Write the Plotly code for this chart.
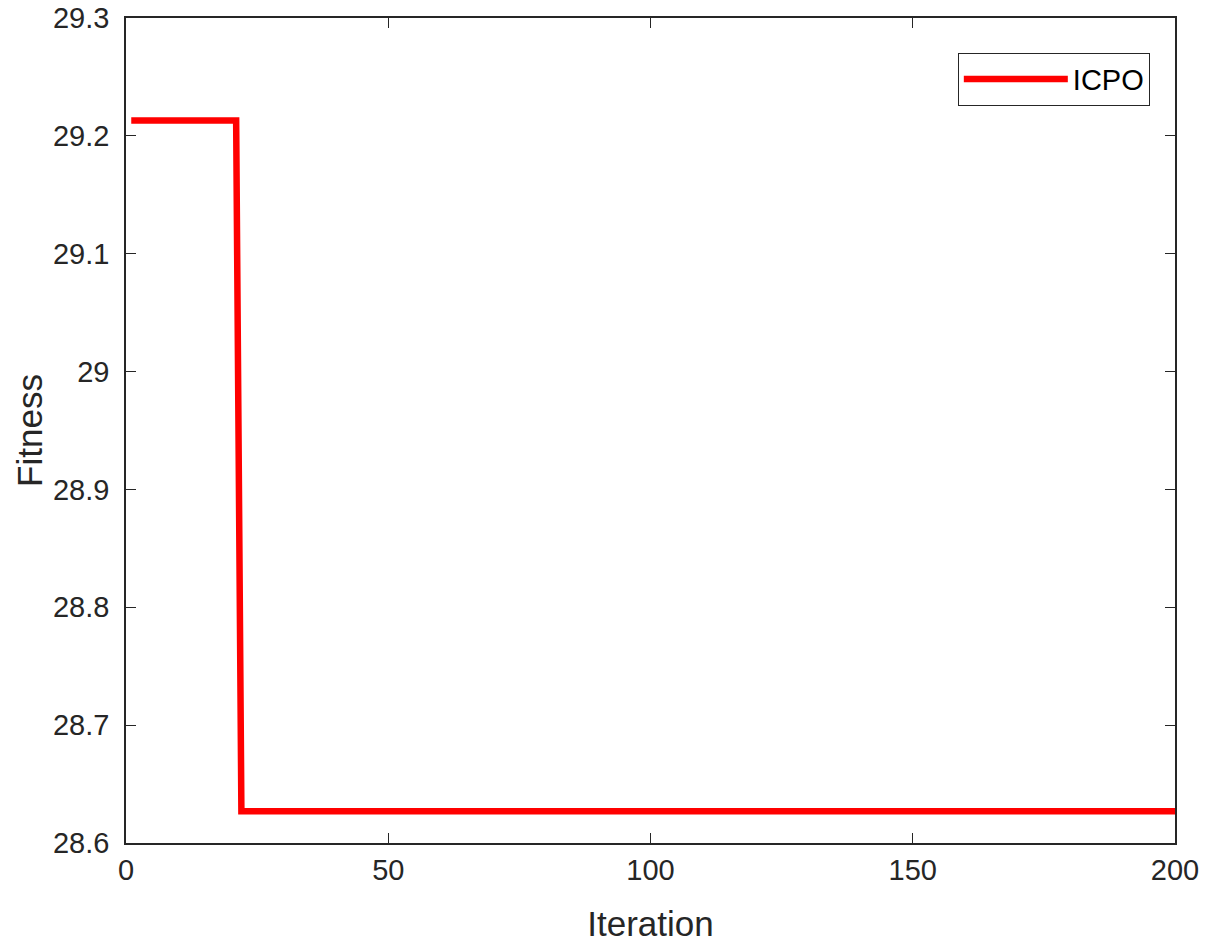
import plotly.graph_objects as go

# convergence curve (step values)
iteration = [1, 21, 22, 200]
fitness = [29.213, 29.213, 28.627, 28.627]

x_ticks = [0, 50, 100, 150, 200]
y_ticks = [28.6, 28.7, 28.8, 28.9, 29.0, 29.1, 29.2, 29.3]
y_labels = ["28.6", "28.7", "28.8", "28.9", "29", "29.1", "29.2", "29.3"]

fig = go.Figure()
fig.add_trace(go.Scatter(x=iteration, y=fitness, mode="lines", name="ICPO",
                         line=dict(color="#ff0000", width=6.5)))

fig.update_layout(
    width=1205, height=943,
    margin=dict(l=126, r=30, t=18, b=100, autoexpand=False),
    paper_bgcolor="white", plot_bgcolor="white",
    font=dict(family="Liberation Sans, Arial", size=29, color="#262626"),
    showlegend=True,
    legend=dict(x=0.976, y=0.958, xanchor="right", yanchor="top",
                bgcolor="white", bordercolor="#262626", borderwidth=1,
                font=dict(size=29, color="#000000"), itemwidth=104,
                tracegroupgap=0),
)
fig.update_xaxes(range=[0, 200], tickvals=x_ticks, ticks="inside", ticklen=10,
                 tickcolor="#262626", showline=True, linecolor="#262626", linewidth=1.5,
                 mirror="ticks", showgrid=False, zeroline=False, automargin=False,
                 ticklabeloverflow="allow",
                 title=dict(text="Iteration", standoff=29))
fig.update_yaxes(range=[28.6, 29.3], tickvals=y_ticks, ticktext=y_labels,
                 ticks="inside", ticklen=10, tickcolor="#262626", showline=True,
                 linecolor="#262626", linewidth=1.5, mirror="ticks", showgrid=False,
                 zeroline=False, automargin=False, ticklabelstandoff=9,
                 ticklabeloverflow="allow",
                 title=dict(text="Fitness", standoff=0))

# drop the page's default body margin so the figure fills the window
fig.write_html("out.html", config={"displayModeBar": False},
               post_script="document.body.style.margin = '0';")
